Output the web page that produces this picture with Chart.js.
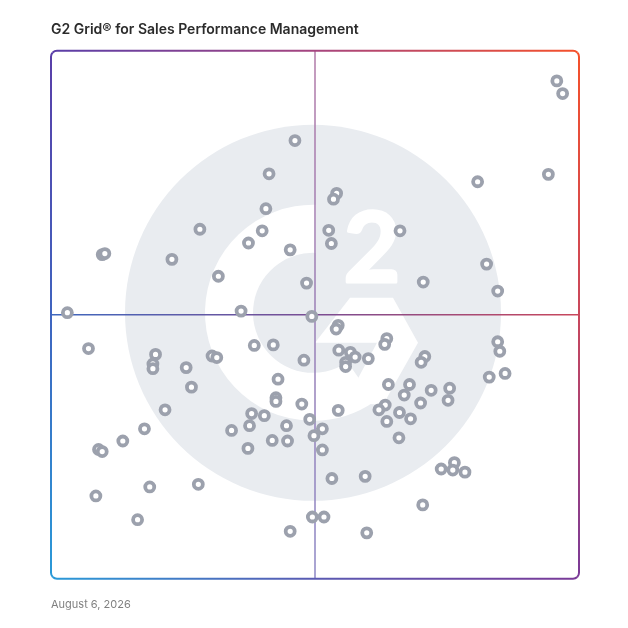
<!DOCTYPE html>
<html>
<head>
<meta charset="utf-8">
<script src="https://cdn.jsdelivr.net/npm/chart.js@4.4.1/dist/chart.umd.min.js"></script>
<style>
  html, body { margin: 0; padding: 0; background: #fff; }
  #wrap { width: 628px; height: 628px; }
</style>
</head>
<body>
<div id="wrap"><canvas id="grid"></canvas></div>
<script>
// Product positions on the grid, both axes 0..100 (50 = quadrant split)
const satisfaction = [
    46.2, 41.3, 40.7, 28.2, 40.0, 37.4, 45.3, 9.7, 10.2, 22.9, 31.7, 48.4, 3.1, 36.0, 49.4,
    95.8, 96.9, 80.8, 94.2, 54.1, 53.5, 52.6, 53.1, 66.1, 82.5, 70.5, 84.6,
    7.1, 19.8, 19.3, 19.3, 25.6, 26.6, 30.5, 31.4, 38.5, 42.1, 47.9, 43.0, 42.6, 42.6, 47.5,
    21.6, 17.7, 13.6, 9.0, 9.7, 38.0, 40.4, 37.6, 34.2, 44.6, 49.0, 49.8, 41.9, 44.8, 37.3,
    8.5, 18.7, 27.9, 16.4, 45.3, 49.5,
    54.4, 54.0, 63.6, 63.2, 84.6, 85.0, 54.5, 56.7, 57.6, 55.8, 55.8, 60.1, 70.8, 70.1,
    83.0, 86.0, 63.9, 67.9, 66.9, 72.0, 75.5, 75.2, 70.0, 63.3, 62.1, 66.0, 68.1, 63.6,
    54.4, 51.4, 65.9, 51.4, 53.2, 59.5, 73.9, 76.4, 76.1, 78.4, 70.4, 51.7, 59.8
];
const marketPresence = [
    83.0, 76.7, 70.1, 66.2, 65.9, 63.6, 62.3, 61.4, 61.6, 60.5, 57.3, 56.0, 50.4, 50.7, 49.7,
    94.3, 91.9, 75.2, 76.6, 73.0, 71.9, 66.0, 63.5, 65.9, 59.6, 56.2, 54.5,
    43.6, 42.5, 40.7, 39.8, 40.0, 36.3, 42.2, 41.9, 44.2, 44.3, 41.4, 37.8, 34.3, 33.6, 33.1,
    32.0, 28.4, 26.1, 24.5, 24.1, 31.3, 30.9, 29.0, 28.1, 29.0, 30.2, 27.1, 26.2, 26.1, 24.7,
    15.7, 17.4, 17.9, 11.2, 9.0, 11.7,
    48.0, 47.3, 45.5, 44.4, 44.9, 43.1, 43.3, 42.9, 42.0, 41.0, 40.2, 41.7, 42.1, 41.0,
    38.2, 38.9, 36.8, 36.8, 34.8, 35.7, 36.1, 33.8, 33.3, 32.9, 32.0, 31.5, 30.3, 29.8,
    31.9, 28.4, 26.7, 24.4, 19.0, 19.4, 20.8, 22.0, 20.6, 20.2, 14.0, 11.7, 8.7
];
const splitValue = 50;

const points = satisfaction.map((x, i) => ({ x: x, y: marketPresence[i] }));

function roundRectPath(ctx, l, t, r, b, rad) {
    ctx.beginPath();
    ctx.moveTo(l + rad, t);
    ctx.lineTo(r - rad, t);
    ctx.arcTo(r, t, r, t + rad, rad);
    ctx.lineTo(r, b - rad);
    ctx.arcTo(r, b, r - rad, b, rad);
    ctx.lineTo(l + rad, b);
    ctx.arcTo(l, b, l, b - rad, rad);
    ctx.lineTo(l, t + rad);
    ctx.arcTo(l, t, l + rad, t, rad);
    ctx.closePath();
}

function gradient(ctx, x0, y0, x1, y1, stops) {
    const g = ctx.createLinearGradient(x0, y0, x1, y1);
    stops.forEach((c, i) => g.addColorStop(i / (stops.length - 1), c));
    return g;
}

// G2 watermark, quadrant lines and gradient frame
const gridDecor = {
    id: 'gridDecor',
    beforeDatasetsDraw(chart) {
        const { ctx, chartArea: a, scales } = chart;
        const s = a.width / 528;
        const cx = a.left + 262 * s;
        const cy = a.top + 262 * s;
        ctx.save();

        // watermark circle
        ctx.fillStyle = '#e9ecf0';
        ctx.beginPath();
        ctx.arc(cx, cy, 188 * s, 0, Math.PI * 2);
        ctx.fill();

        // G arc
        const R = 108 * s, r = 60 * s, cut = 3 * s;
        const endA = 55 * Math.PI / 180;
        ctx.fillStyle = '#ffffff';
        ctx.beginPath();
        ctx.arc(cx, cy, R, -Math.acos(cut / R), endA, true);
        ctx.arc(cx, cy, r, endA, -Math.acos(cut / r), false);
        ctx.closePath();
        ctx.fill();

        // G chevron
        const chev = [[37, -15], [80, -15], [105, 30], [70, 92], [32, 90], [64, 30], [2, 30]];
        ctx.beginPath();
        chev.forEach((p, i) => {
            const px = cx + p[0] * s, py = cy + p[1] * s;
            if (i === 0) ctx.moveTo(px, py); else ctx.lineTo(px, py);
        });
        ctx.closePath();
        ctx.fill();

        // superscript 2
        ctx.font = 'bold ' + Math.round(98 * s) + 'px Lato';
        ctx.textAlign = 'center';
        ctx.textBaseline = 'alphabetic';
        ctx.strokeStyle = '#ffffff';
        ctx.lineWidth = 3 * s;
        ctx.lineJoin = 'round';
        ctx.fillText('2', cx + 59 * s, cy - 31 * s);
        ctx.strokeText('2', cx + 59 * s, cy - 31 * s);

        // quadrant lines
        const mx = scales.x.getPixelForValue(splitValue);
        const my = scales.y.getPixelForValue(splitValue);
        ctx.lineWidth = 1.5;
        ctx.strokeStyle = gradient(ctx, 0, a.top, 0, a.bottom, ['#b27aa8', '#9a7fb6', '#8c86c4']);
        ctx.beginPath();
        ctx.moveTo(mx, a.top);
        ctx.lineTo(mx, a.bottom);
        ctx.stroke();
        ctx.strokeStyle = gradient(ctx, a.left, 0, a.right, 0, ['#3f68be', '#7a4d93', '#c9475c']);
        ctx.beginPath();
        ctx.moveTo(a.left, my);
        ctx.lineTo(a.right, my);
        ctx.stroke();

        // frame, one gradient per side
        const l = a.left, t = a.top, rr = a.right, b = a.bottom;
        const midX = (l + rr) / 2, midY = (t + b) / 2, e = 8;
        const sides = [
            { tri: [[l - e, t - e], [rr + e, t - e]], g: gradient(ctx, l, 0, rr, 0, ['#5a3ea8', '#a6457f', '#f5512b']) },
            { tri: [[rr + e, t - e], [rr + e, b + e]], g: gradient(ctx, 0, t, 0, b, ['#f5512b', '#c9475c', '#7a3a98']) },
            { tri: [[l - e, b + e], [rr + e, b + e]], g: gradient(ctx, l, 0, rr, 0, ['#2a9ad8', '#5a5ab2', '#7a3a98']) },
            { tri: [[l - e, t - e], [l - e, b + e]], g: gradient(ctx, 0, t, 0, b, ['#5a3ea8', '#3f64bf', '#2a9ad8']) }
        ];
        ctx.lineWidth = 2;
        sides.forEach(side => {
            ctx.save();
            ctx.beginPath();
            ctx.moveTo(midX, midY);
            ctx.lineTo(side.tri[0][0], side.tri[0][1]);
            ctx.lineTo(side.tri[1][0], side.tri[1][1]);
            ctx.closePath();
            ctx.clip();
            roundRectPath(ctx, l, t, rr, b, 6);
            ctx.strokeStyle = side.g;
            ctx.stroke();
            ctx.restore();
        });

        ctx.restore();
    }
};

new Chart(document.getElementById('grid'), {
    type: 'scatter',
    data: {
        datasets: [{
            label: 'Products',
            data: points,
            pointRadius: 4.5,
            pointHoverRadius: 4.5,
            pointBorderWidth: 3.8,
            pointHoverBorderWidth: 3.8,
            borderColor: '#9ca1ad',
            backgroundColor: '#ffffff',
            clip: false
        }]
    },
    options: {
        responsive: true,
        maintainAspectRatio: false,
        animation: false,
        layout: {
            padding: { left: 51, right: 49, top: 0, bottom: 0 }
        },
        plugins: {
            legend: { display: false },
            tooltip: { enabled: false },
            title: {
                display: true,
                text: 'G2 Grid® for Sales Performance Management',
                align: 'start',
                color: '#2b2b2b',
                font: { family: 'Inter', size: 14, weight: '600' },
                padding: { top: 21, bottom: 13 }
            },
            subtitle: {
                display: true,
                position: 'bottom',
                align: 'start',
                text: 'August 6, 2026',
                color: '#808080',
                font: { family: 'Inter', size: 11, weight: 'normal' },
                padding: { top: 19, bottom: 17 }
            }
        },
        scales: {
            x: { type: 'linear', min: 0, max: 100, display: false },
            y: { type: 'linear', min: 0, max: 100, display: false }
        }
    },
    plugins: [gridDecor]
});
</script>
</body>
</html>
